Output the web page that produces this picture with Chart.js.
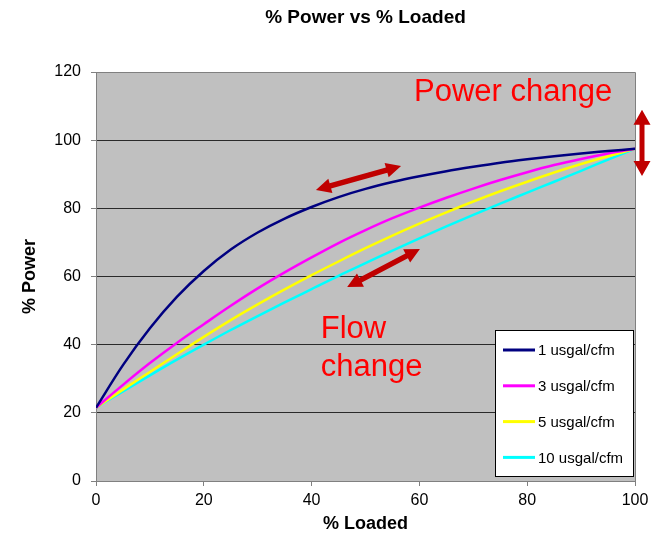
<!DOCTYPE html>
<html>
<head>
<meta charset="utf-8">
<script src="https://cdn.jsdelivr.net/npm/chart.js@4/dist/chart.umd.min.js"></script>
<style>
  body { margin: 0; background: #fff; }
  #wrap { width: 658px; height: 538px; }
</style>
</head>
<body>
<div id="wrap"><canvas id="myChart" width="658" height="538"></canvas></div>
<script>
/* DATA */
const loaded = [0, 5, 10, 15, 20, 25, 30, 35, 40, 45, 50, 55, 60, 65, 70, 75, 80, 85, 90, 95, 100];

const power1 = [21.5, 34, 44.8, 54, 61.6, 67.9, 72.9, 77, 80.4, 83.3, 85.7, 87.7, 89.4, 90.9, 92.2, 93.4, 94.4, 95.3, 96.1, 96.8, 97.5];
const power3 = [21.5, 28.2, 34.6, 40.5, 46, 51.4, 56.5, 61.2, 65.6, 69.8, 73.6, 77.1, 80.2, 83.1, 85.8, 88.3, 90.6, 92.7, 94.5, 96.1, 97.5];
const power5 = [21.5, 26.8, 32, 37.2, 42.3, 47.2, 51.8, 56.2, 60.4, 64.4, 68.3, 72, 75.5, 78.8, 82, 85, 87.8, 90.5, 93, 95.3, 97.5];
const power10 = [21.5, 26.3, 31, 35.6, 40, 44.3, 48.4, 52.4, 56.3, 60.2, 63.9, 67.6, 71.2, 74.7, 78.1, 81.4, 84.6, 87.8, 91, 94.3, 97.5];

const seriesLabels = ['1 usgal/cfm', '3 usgal/cfm', '5 usgal/cfm', '10 usgal/cfm'];
const seriesColors = ['#000080', '#ff00ff', '#ffff00', '#00ffff'];

const xTicks = [0, 20, 40, 60, 80, 100];
const yTicks = [0, 20, 40, 60, 80, 100, 120];

const FONT = 'Arial, "Liberation Sans", sans-serif';

function toPoints(ys){
    return loaded.map((x, i) => ({x: x, y: ys[i]}));
}

const datasets = [power1, power3, power5, power10].map((ys, i) => ({
    label: seriesLabels[i],
    data: toPoints(ys),
    borderColor: seriesColors[i],
    backgroundColor: seriesColors[i],
    borderWidth: 2.5,
    pointRadius: 0,
    cubicInterpolationMode: 'monotone',
    fill: false
}));

/* PLOT FRAME, TITLE, LEGEND, NOTES */
function doubleArrow(ctx, x1, y1, x2, y2, w, hl, hw){
    const len = Math.hypot(x2 - x1, y2 - y1);
    ctx.save();
    ctx.translate(x1, y1);
    ctx.rotate(Math.atan2(y2 - y1, x2 - x1));
    ctx.beginPath();
    ctx.moveTo(0, 0);
    ctx.lineTo(hl, -hw);
    ctx.lineTo(hl, -w / 2);
    ctx.lineTo(len - hl, -w / 2);
    ctx.lineTo(len - hl, -hw);
    ctx.lineTo(len, 0);
    ctx.lineTo(len - hl, hw);
    ctx.lineTo(len - hl, w / 2);
    ctx.lineTo(hl, w / 2);
    ctx.lineTo(hl, hw);
    ctx.closePath();
    ctx.fill();
    ctx.restore();
}

const framePlugin = {
    id: 'frame',
    beforeDraw(chart){
        const {ctx, chartArea: a} = chart;
        ctx.save();
        ctx.fillStyle = '#c0c0c0';
        ctx.fillRect(a.left, a.top, a.right - a.left, a.bottom - a.top);
        ctx.restore();
    },
    beforeDatasetsDraw(chart){
        const {ctx, chartArea: a} = chart;
        ctx.save();
        ctx.strokeStyle = '#808080';
        ctx.lineWidth = 1;
        ctx.beginPath();
        ctx.moveTo(a.left, a.top + 0.5);
        ctx.lineTo(a.right + 0.5, a.top + 0.5);
        ctx.lineTo(a.right + 0.5, a.bottom);
        ctx.stroke();
        ctx.restore();
    },
    afterDraw(chart){
        const {ctx, chartArea: a, scales} = chart;
        const xs = scales.x, ys = scales.y;
        ctx.save();

        // title
        ctx.fillStyle = '#000';
        ctx.font = 'bold 19px ' + FONT;
        ctx.textAlign = 'center';
        ctx.textBaseline = 'middle';
        ctx.fillText('% Power vs % Loaded', (a.left + a.right) / 2, 18);

        // legend
        const lx = 495, ly = 330, lw = 138, lh = 146;
        ctx.fillStyle = '#fff';
        ctx.fillRect(lx, ly, lw, lh);
        ctx.strokeStyle = '#000';
        ctx.lineWidth = 1;
        ctx.strokeRect(lx + 0.5, ly + 0.5, lw, lh);
        ctx.font = '15px ' + FONT;
        ctx.textAlign = 'left';
        ctx.textBaseline = 'middle';
        chart.data.datasets.forEach((ds, i) => {
            const cy = ly + 20 + i * 35.8;
            ctx.strokeStyle = ds.borderColor;
            ctx.lineWidth = 3;
            ctx.beginPath();
            ctx.moveTo(503, cy);
            ctx.lineTo(535, cy);
            ctx.stroke();
            ctx.fillStyle = '#000';
            ctx.fillText(ds.label, 538, cy + 1);
        });

        // notes
        ctx.fillStyle = '#ff0000';
        ctx.font = '31px ' + FONT;
        ctx.textBaseline = 'alphabetic';
        ctx.fillText('Power change', xs.getPixelForValue(59), ys.getPixelForValue(111.4));
        ctx.fillText('Flow', xs.getPixelForValue(41.7), ys.getPixelForValue(41.9));
        ctx.fillText('change', xs.getPixelForValue(41.7), ys.getPixelForValue(30.7));

        ctx.fillStyle = '#c00000';
        doubleArrow(ctx, xs.getPixelForValue(40.8), ys.getPixelForValue(85.4),
                         xs.getPixelForValue(56.6), ys.getPixelForValue(92.4), 5.5, 15, 7.5);
        doubleArrow(ctx, xs.getPixelForValue(46.6), ys.getPixelForValue(56.9),
                         xs.getPixelForValue(60.1), ys.getPixelForValue(68.1), 5.5, 15, 7.5);
        doubleArrow(ctx, a.right + 7, ys.getPixelForValue(108.9),
                         a.right + 7, ys.getPixelForValue(89.5), 5, 15, 8.5);
        ctx.restore();
    }
};

/* CHART */
const config = {
    type: 'line',
    data: { datasets },
    plugins: [framePlugin],
    options: {
        responsive: false,
        animation: false,
        layout: { padding: { top: 72, right: 23, bottom: 0, left: 0 } },
        plugins: {
            legend: { display: false },
            title: { display: false },
            tooltip: { enabled: false }
        },
        scales: {
            x: {
                type: 'linear',
                min: 0,
                max: 100,
                afterFit: (scale) => { scale.height = 57; },
                afterBuildTicks: (scale) => { scale.ticks = xTicks.map(v => ({value: v})); },
                border: { display: true, color: '#808080', width: 1 },
                grid: { drawOnChartArea: false, drawTicks: true, tickLength: 5, tickColor: '#808080' },
                ticks: { color: '#000', padding: 5, maxRotation: 0, font: { family: FONT, size: 16 } },
                title: {
                    display: true,
                    text: '% Loaded',
                    color: '#000',
                    padding: { top: 0, bottom: 3 },
                    font: { family: FONT, size: 18, weight: 'bold' }
                }
            },
            y: {
                min: 0,
                max: 120,
                afterFit: (scale) => { scale.width = 96; },
                afterBuildTicks: (scale) => { scale.ticks = yTicks.map(v => ({value: v})); },
                border: { display: true, color: '#808080', width: 1 },
                grid: {
                    color: (c) => (c.tick && (c.tick.value === 0 || c.tick.value === 120)) ? '#808080' : '#2a2a2a',
                    lineWidth: 1,
                    drawTicks: true,
                    tickLength: 5,
                    tickColor: '#808080'
                },
                ticks: { color: '#000', padding: 10, font: { family: FONT, size: 16 } },
                title: {
                    display: true,
                    text: '% Power',
                    color: '#000',
                    padding: { top: 19, bottom: 0 },
                    font: { family: FONT, size: 18, weight: 'bold' }
                }
            }
        }
    }
};

let myChart = new Chart(document.getElementById('myChart'), config);
</script>
</body>
</html>
